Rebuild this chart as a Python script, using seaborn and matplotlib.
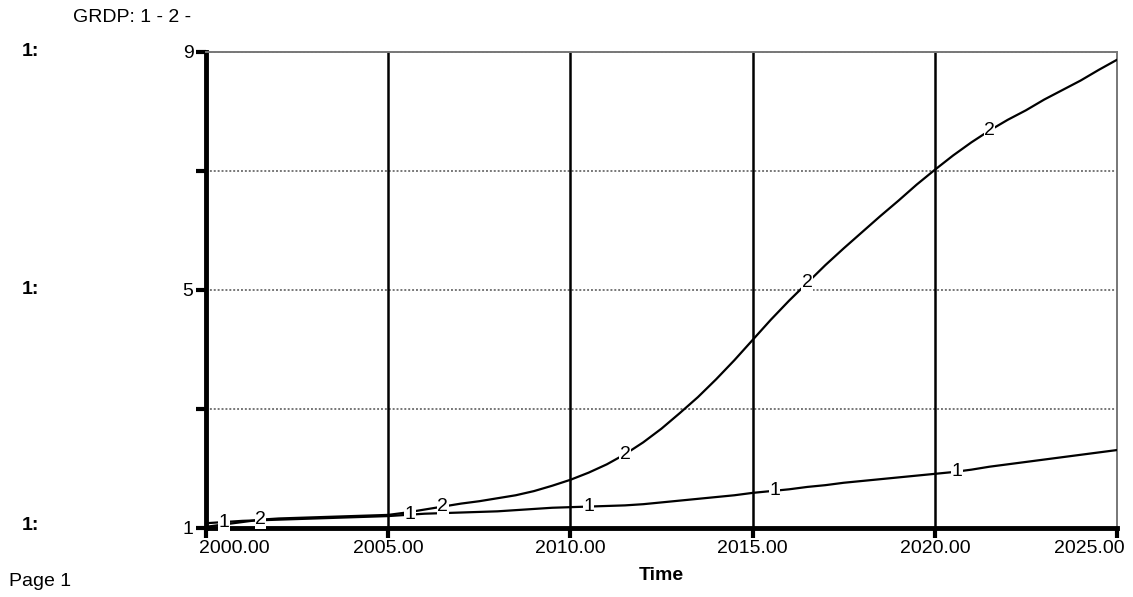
import numpy as np
import pandas as pd
import seaborn as sns
import matplotlib
matplotlib.use("Agg")
import matplotlib.pyplot as plt
from matplotlib.transforms import ScaledTranslation

# half-year time steps, 2000.0 ... 2025.0
time = list(np.arange(2000, 2025.01, 0.5))
grdp_1 = [1.08, 1.10, 1.12, 1.13, 1.14, 1.15, 1.16, 1.17, 1.18, 1.19,
          1.20, 1.22, 1.24, 1.25, 1.26, 1.27, 1.28, 1.30, 1.32, 1.34,
          1.35, 1.36, 1.37, 1.38, 1.40, 1.43, 1.46, 1.49, 1.52, 1.55,
          1.59, 1.62, 1.65, 1.69, 1.72, 1.76, 1.79, 1.82, 1.85, 1.88,
          1.91, 1.94, 1.98, 2.03, 2.07, 2.11, 2.15, 2.19, 2.23, 2.27, 2.31]
grdp_2 = [1.02, 1.06, 1.10, 1.14, 1.16, 1.17, 1.18, 1.19, 1.20, 1.21,
          1.22, 1.26, 1.31, 1.36, 1.41, 1.45, 1.50, 1.55, 1.62, 1.71,
          1.81, 1.93, 2.07, 2.24, 2.44, 2.67, 2.93, 3.20, 3.50, 3.82,
          4.16, 4.50, 4.82, 5.12, 5.42, 5.70, 5.97, 6.24, 6.50, 6.77,
          7.02, 7.26, 7.48, 7.68, 7.86, 8.02, 8.20, 8.36, 8.52, 8.70, 8.87]
label_years_1 = [2000.5, 2005.6, 2010.5, 2015.6, 2020.6]
label_years_2 = [2001.5, 2006.5, 2011.5, 2016.5, 2021.5]
xticks = [2000, 2005, 2010, 2015, 2020, 2025]

df = pd.DataFrame({
    "Time": time * 2,
    "value": grdp_1 + grdp_2,
    "series": ["1"] * len(time) + ["2"] * len(time),
})

sns.set_style("white")
plt.rcParams['font.family'] = ['Liberation Sans', 'DejaVu Sans']
plt.rcParams['text.color'] = 'black'
plt.rcParams['axes.labelcolor'] = 'black'
plt.rcParams['xtick.color'] = 'black'
plt.rcParams['ytick.color'] = 'black'

fig = plt.figure(figsize=(11.33, 5.97), dpi=100)
ax = fig.add_axes([0.1818, 0.1156, 0.8041, 0.7973])

sns.lineplot(data=df, x="Time", y="value", hue="series", palette=["black", "black"],
             linewidth=1.6, legend=False, ax=ax, zorder=3)

# line labels
for lbl, yrs, vals in [("1", label_years_1, grdp_1), ("2", label_years_2, grdp_2)]:
    for yr in yrs:
        ax.text(yr, np.interp(yr, time, vals), lbl, fontsize=14, ha="center", va="center",
                zorder=4, bbox=dict(facecolor="white", edgecolor="none", pad=0.3))

ax.set_xlim(2000, 2025)
ax.set_ylim(1, 9)
ax.set_xticks(xticks)
ax.set_xticklabels([f"{v:.2f}" for v in xticks], fontsize=14)
ax.set_yticks([1, 3, 5, 7, 9])
ax.set_yticklabels(["1", "", "5", "", "9"], fontsize=14)
ax.tick_params(axis="both", direction="out", length=7, width=3, bottom=True, left=True, pad=2)
tl = ax.get_xticklabels()
tl[0].set_ha("left")
tl[0].set_transform(tl[0].get_transform() + ScaledTranslation(-7 / 100, 0, fig.dpi_scale_trans))
tl[-1].set_ha("right")
tl[-1].set_transform(tl[-1].get_transform() + ScaledTranslation(8 / 100, 0, fig.dpi_scale_trans))
ax.set_xlabel("Time", fontsize=14, fontweight="bold", labelpad=7)
ax.set_ylabel("")

for v in [2005, 2010, 2015, 2020]:
    ax.axvline(v, color="black", lw=1.8, zorder=2)
for v in [3, 5, 7, 9]:
    ax.axhline(v, color="#777777", lw=1.4, ls=(0, (1, 1)), zorder=1)

for side in ["top", "right"]:
    ax.spines[side].set_color("#777777")
    ax.spines[side].set_linewidth(1.4)
    ax.spines[side].set_linestyle((0, (1, 1)))
ax.spines["left"].set_linewidth(3.5)
ax.spines["bottom"].set_linewidth(3.5)
ax.spines["left"].set_color("black")
ax.spines["bottom"].set_color("black")

fig.text(73 / 1133, 1 - 18 / 597, "GRDP: 1 - 2 -", fontsize=14, va="center", ha="left")
for yp in [52, 290, 526]:
    fig.text(22 / 1133, 1 - yp / 597, "1:", fontsize=14, fontweight="bold", va="center", ha="left")
fig.text(9 / 1133, 1 - 582 / 597, "Page 1", fontsize=14, va="center", ha="left")

fig.savefig("out.png", dpi=100)
